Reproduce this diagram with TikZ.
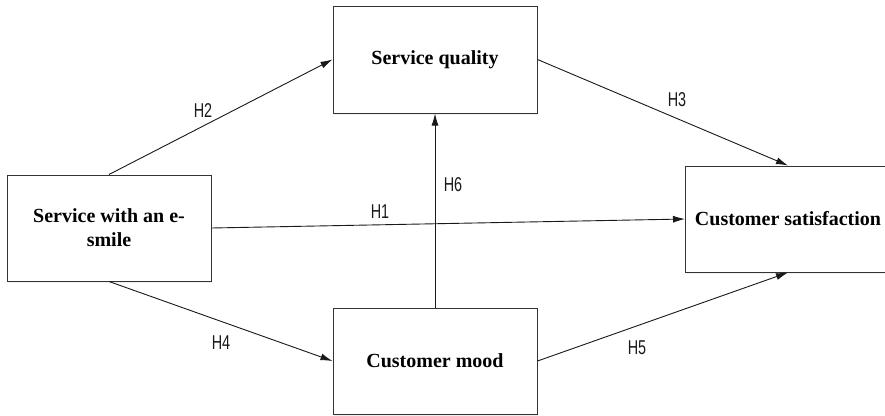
\documentclass[tikz,border=0pt]{standalone}
\usepackage{fontspec}
\setmainfont{Liberation Serif}
\newfontfamily\labfont[FakeStretch=0.72]{Liberation Sans}
\usetikzlibrary{arrows.meta,shadows}
\begin{document}
\begin{tikzpicture}[x=1pt,y=-1pt,
  boxnode/.style={draw=black!80, line width=1pt, fill=white, rectangle,
    minimum width=204pt, minimum height=106pt, inner sep=0pt, align=center,
    font=\fontsize{20}{24}\selectfont\bfseries,
    drop shadow={opacity=0.12, shadow xshift=1.2pt, shadow yshift=-1.5pt}},
  arr/.style={draw=black!90, line width=0.9pt, -{Latex[length=12pt,width=7pt]}},
  lab/.style={font=\labfont\fontsize{20}{20}\selectfont, inner sep=0pt, text=black!90}]
\clip (0,0) rectangle (885,415);
\fill[white] (0,0) rectangle (885,415);
\node[boxnode] (L) at (109,228) {Service with an e-\\smile};
\node[boxnode, minimum height=107pt] (SQ) at (435,59.5) {Service quality};
\node[boxnode] (CM) at (435,361) {Customer mood};
\node[boxnode, minimum width=205pt, anchor=west] (CS) at (685,219) {Customer satisfaction};
\draw[arr] (L.north) -- (SQ.west);
\draw[arr] (SQ.east) -- (CS.north);
\draw[arr] (L.east) -- (CS.west);
\draw[arr] (L.south) -- (CM.west);
\draw[arr] (CM.east) -- (CS.south);
\draw[arr] (CM.north) -- (SQ.south);
\node[lab] (h2) at (203,111) {H2};
\node[lab] (h3) at (677,100) {H3};
\node[lab] (h1) at (380,212) {H1};
\node[lab] (h6) at (453,185) {H6};
\node[lab] (h4) at (221,343) {H4};
\node[lab] (h5) at (637,348) {H5};
\end{tikzpicture}
\end{document}
